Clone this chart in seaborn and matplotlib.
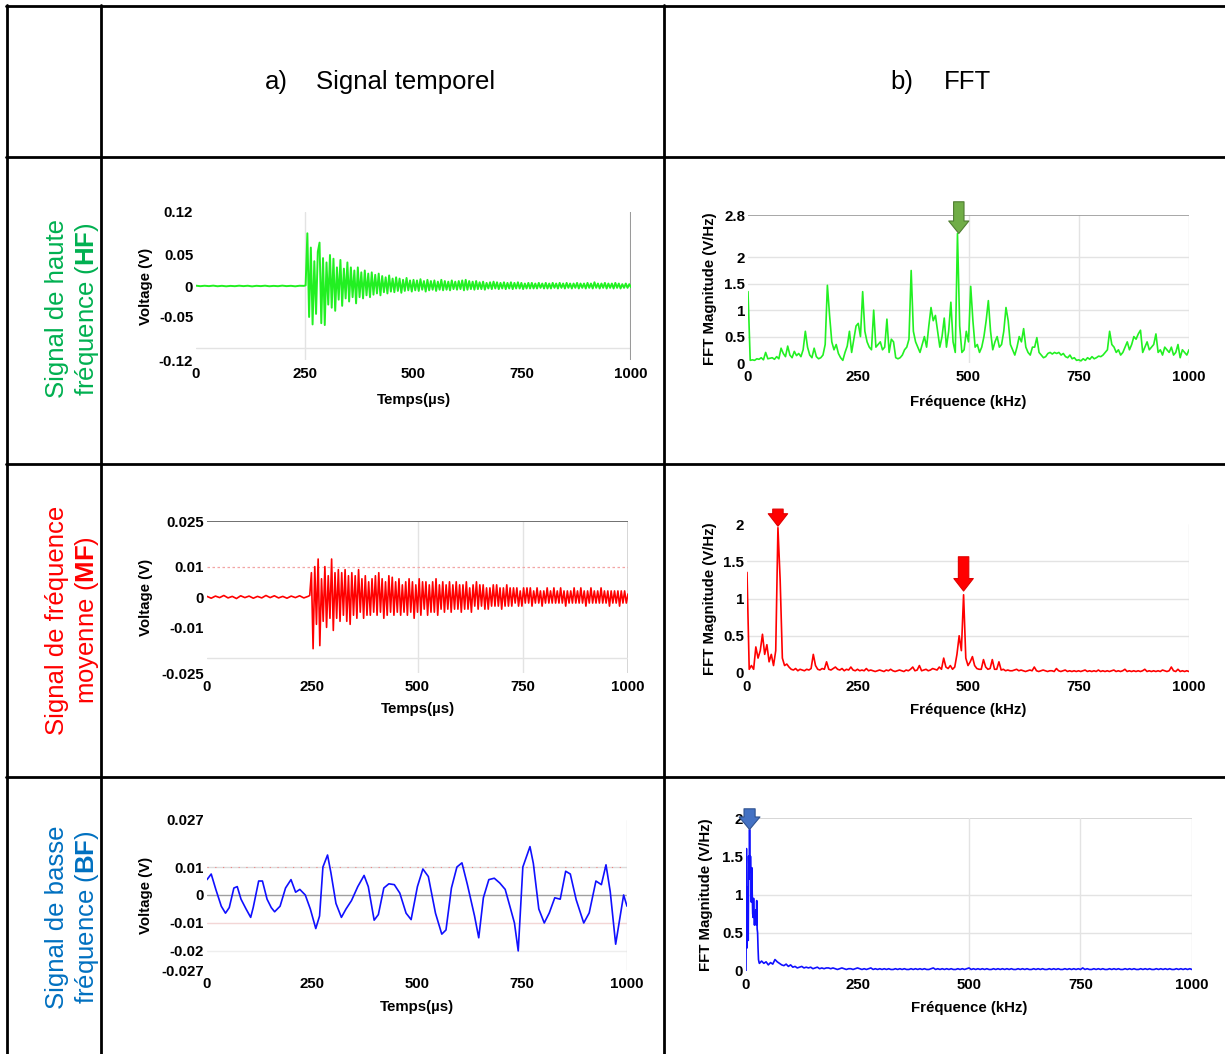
import numpy as np
import matplotlib.pyplot as plt
from matplotlib.lines import Line2D
import seaborn as sns

sns.set_theme(style="white")
plt.rcParams['font.family'] = ['Liberation Sans', 'DejaVu Sans']
plt.rcParams['mathtext.fontset'] = 'custom'
plt.rcParams['mathtext.rm'] = 'Liberation Sans'
plt.rcParams['mathtext.bf'] = 'Liberation Sans:bold'
plt.rcParams['text.color'] = 'black'
plt.rcParams['axes.labelcolor'] = 'black'

# ---------------- data ----------------
# HF time signal, mV : quiet part 0-248 us, then burst 252-1000 us (4 us step)
hf_time_pre = [0.5, -0.3, 0.4, -0.2, 0.6, -0.4, 0.3, -0.5, 0.2, -0.3, 0.5, -0.2, 0.4,
               -0.6, 0.3, -0.2, 0.5, -0.4, 0.2, -0.3, 0.6, -0.2, 0.3, -0.5, 0.4, 0.2]
hf_time_post = [1, 85, -50, 62, -62, 40, -45, 55, 70, -60,
                45, -63, 38, -30, 50, -35, 44, -40, 30, -22,
                42, -32, 28, -20, 38, -25, 30, -18, 25, -28,
                30, -18, 22, -20, 25, -15, 20, -18, 22, -14,
                18, -12, 20, -15, 16, -10, 14, -12, 17, -9,
                12, -10, 14, -8, 12, -11, 10, -8, 13, -7,
                9, -9, 10, -7, 9, -8, 11, -6, 8, -9,
                10, -7, 8, -6, 9, -8, 7, -6, 10, -7,
                8, -6, 7, -7, 9, -5, 7, -6, 8, -5,
                9, -7, 10, -6, 8, -5, 7, -6, 8, -5,
                6, -5, 7, -6, 5, -4, 6, -5, 7, -4,
                6, -5, 5, -4, 6, -5, 5, -4, 6, -5,
                5, -4, 6, -4, 5, -5, 4, -4, 5, -4,
                5, -4, 4, -4, 5, -3, 4, -4, 5, -4,
                4, -4, 5, -3, 4, -4, 5, -3, 4, -4,
                5, -3, 4, -4, 4, -3, 5, -4, 4, -3,
                4, -4, 5, -3, 4, -4, 6, -3, 4, -4,
                4, -3, 5, -4, 4, -3, 4, -4, 5, -3,
                4, -4, 3, -3, 4, -3, 3, -2]

# HF FFT magnitude, 0-1000 kHz (5 kHz step)
hf_fft = [1.35, 0.05, 0.06, 0.05, 0.08, 0.07, 0.1, 0.06, 0.2, 0.08,
          0.09, 0.1, 0.07, 0.12, 0.08, 0.28, 0.18, 0.12, 0.32, 0.15,
          0.1, 0.22, 0.14, 0.18, 0.12, 0.25, 0.6, 0.3, 0.15, 0.1,
          0.28, 0.12, 0.08, 0.1, 0.15, 0.35, 1.47, 0.9, 0.4, 0.25,
          0.35, 0.18, 0.1, 0.05, 0.2, 0.32, 0.6, 0.2, 0.45, 0.7,
          0.75, 0.5, 1.35, 0.6, 0.4, 0.3, 0.25, 1.0, 0.3, 0.35,
          0.4, 0.25, 0.3, 0.83, 0.2, 0.45, 0.4, 0.1, 0.08, 0.1,
          0.15, 0.25, 0.3, 0.45, 1.75, 0.6, 0.4, 0.3, 0.2, 0.35,
          0.5, 0.3, 0.7, 1.05, 0.8, 0.9, 0.6, 0.3, 0.5, 0.85,
          0.3, 0.6, 1.15, 0.4, 0.2, 2.45, 0.7, 0.2, 0.25, 0.6,
          0.4, 1.45, 0.8, 0.3, 0.35, 0.2, 0.3, 0.5, 0.8, 1.18,
          0.6, 0.25, 0.4, 0.5, 0.3, 0.35, 0.6, 1.05, 0.8, 0.35,
          0.25, 0.15, 0.3, 0.5, 0.4, 0.65, 0.3, 0.2, 0.15, 0.3,
          0.3, 0.48, 0.2, 0.15, 0.1, 0.12, 0.18, 0.2, 0.17, 0.2,
          0.18, 0.2, 0.15, 0.18, 0.12, 0.1, 0.15, 0.08, 0.1, 0.05,
          0.06, 0.04, 0.08, 0.05, 0.1, 0.07, 0.12, 0.08, 0.1, 0.13,
          0.12, 0.15, 0.2, 0.25, 0.6, 0.35, 0.3, 0.2, 0.25, 0.15,
          0.2, 0.3, 0.4, 0.25, 0.35, 0.5, 0.45, 0.55, 0.62, 0.2,
          0.3, 0.4, 0.25, 0.3, 0.35, 0.55, 0.2, 0.25, 0.15, 0.3,
          0.25, 0.2, 0.3, 0.15, 0.2, 0.35, 0.1, 0.25, 0.2, 0.15,
          0.25]

# MF time signal, mV : quiet 0-240 us, then 244-1000 us (4 us step)
mf_time_pre = [0.2, -0.4, 0.3, -0.2, 0.5, -0.3, 0.2, -0.5, 0.4, -0.2, 0.3, -0.4, 0.2,
               -0.3, 0.5, -0.2, 0.4, -0.3, 0.2, -0.4, 0.3, -0.2, 0.4, -0.3, 0.2]
mf_time_post = [0.5, 8, -17, 10, -9, 12.5, -16, 6, -8, 10,
                -10, 7, -7, 12.5, -11, 8, -7, 9, -8, 8,
                -6, 9, -8, 7, -9, 8, -6, 7, -7, 9,
                -5, 6, -7, 7, -6, 5, -6, 6, -5, 7,
                -6, 8, -5, 6, -7, 5, -6, 7, -5, 6.5,
                -6, 5, -5, 6, -6, 4, -5, 5, -6, 6,
                -5, 5, -7, 4, -5, 6, -6, 5, -4, 5,
                -6, 4, -5, 5, -5, 6, -6, 4, -4, 5,
                -5, 4, -4, 5, -5, 4, -4, 5, -4, 4,
                -5, 4, -4, 5, -4, 3, -5, 4, -3, 5,
                -4, 4, -3, 4, -4, 3, -4, 3, -3, 4,
                -3, 4, -3, 3, -4, 3, -3, 4, -3, 3,
                -3, 3, -2, 3, -3, 2, -3, 3, -2, 3,
                -2, 3, -3, 2, -2, 3, -2, 2, -3, 2,
                -2, 3, -2, 2, -2, 3, -2, 2, -2, 3,
                -2, 2, -3, 2, -2, 2, -2, 3, -2, 2,
                -2, 3, -2, 2, -3, 2, -2, 3, -2, 2,
                -2, 2, -2, 3, -2, 2, -2, 2, -3, 2,
                -2, 2, -2, 2, -3, 2, -2, 2, -2, 1]

# MF FFT magnitude, 0-1000 kHz (5 kHz step)
mf_fft = [1.35, 0.05, 0.1, 0.05, 0.35, 0.2, 0.3, 0.52, 0.25, 0.38,
          0.15, 0.25, 0.1, 0.3, 1.95, 1.25, 0.2, 0.1, 0.12, 0.08,
          0.05, 0.04, 0.06, 0.03, 0.05, 0.04, 0.03, 0.05, 0.04, 0.06,
          0.25, 0.1, 0.05, 0.04, 0.06, 0.05, 0.15, 0.05, 0.04, 0.06,
          0.08, 0.05, 0.04, 0.06, 0.03, 0.05, 0.04, 0.08, 0.04, 0.03,
          0.05, 0.03, 0.04, 0.03, 0.06, 0.03, 0.04, 0.03, 0.02, 0.03,
          0.04, 0.03, 0.02, 0.04, 0.03, 0.05, 0.03, 0.02, 0.03, 0.04,
          0.03, 0.02, 0.04, 0.03, 0.05, 0.08, 0.03, 0.04, 0.1, 0.03,
          0.04, 0.05, 0.03, 0.04, 0.06, 0.05, 0.04, 0.08, 0.05, 0.2,
          0.08, 0.06, 0.1, 0.05, 0.08, 0.25, 0.5, 0.3, 1.05, 0.2,
          0.1, 0.15, 0.22, 0.1, 0.06, 0.05, 0.05, 0.18, 0.08, 0.05,
          0.06, 0.18, 0.05, 0.05, 0.15, 0.04, 0.05, 0.03, 0.04, 0.03,
          0.03, 0.04, 0.05, 0.03, 0.04, 0.03, 0.02, 0.03, 0.04, 0.03,
          0.08, 0.03, 0.02, 0.03, 0.04, 0.03, 0.02, 0.03, 0.03, 0.02,
          0.06, 0.03, 0.02, 0.03, 0.04, 0.02, 0.03, 0.02, 0.03, 0.02,
          0.03, 0.02, 0.03, 0.04, 0.02, 0.03, 0.02, 0.03, 0.02, 0.04,
          0.02, 0.03, 0.02, 0.03, 0.02, 0.03, 0.04, 0.02, 0.03, 0.02,
          0.03, 0.05, 0.02, 0.03, 0.02, 0.03, 0.02, 0.03, 0.02, 0.03,
          0.05, 0.02, 0.03, 0.02, 0.03, 0.02, 0.03, 0.02, 0.04, 0.03,
          0.02, 0.03, 0.08, 0.03, 0.02, 0.05, 0.02, 0.03, 0.02, 0.03,
          0.02]

# BF time signal : (time us, mV)
bf_t = [0, 10, 21, 34, 44, 53, 64, 72, 81, 93, 104, 110, 123, 132, 143, 153, 161, 174,
        187, 200, 211, 221, 234, 246, 259, 268, 276, 287, 295, 307, 320, 331, 344, 359,
        374, 384, 398, 408, 421, 433, 446, 459, 474, 486, 501, 514, 527, 544, 559, 569,
        582, 595, 607, 620, 637, 647, 658, 671, 684, 697, 710, 722, 732, 741, 752, 769,
        777, 790, 803, 815, 828, 841, 854, 865, 879, 897, 910, 926, 939, 950, 960, 973,
        985, 992, 1000]
bf_v = [5.5, 7.5, 2, -4, -6.5, -4.5, 2.5, 3, -1.5, -5, -8, -4.5, 5, 5, -1.5, -4.5, -6,
        -4, 2.5, 5.5, 1, 2, 0, -5, -12, -7.5, 10, 14.3, 8, -3, -8, -5, -2, 3, 7, 3, -9,
        -7, 2.5, 4, 3.7, 0.7, -6.5, -8.8, 3, 9.3, 6.6, -6.5, -14, -12.5, 2.5, 10, 11.5,
        3.7, -7.5, -15.3, -1, 5.5, 6, 4.3, 2, -4.5, -10, -20, 10, 17.3, 11.3, -5, -10,
        -6.4, -1, -1.5, 8.5, 7.5, -1.7, -10, -6.4, 5, 3.7, 10.8, 1.3, -17.6, -6.4, 0, -4]

# BF FFT magnitude : 0-30 kHz (1 kHz step) then 35-1000 kHz (5 kHz step)
bf_fft_low = [0.0, 1.6, 0.3, 0.5, 1.1, 0.4, 1.5, 1.2, 1.85, 1.3, 1.5, 1.35, 0.9, 1.35,
              1.0, 0.75, 0.7, 0.95, 0.75, 0.6, 0.75, 0.7, 0.8, 0.6, 0.92, 0.55, 0.5, 0.3,
              0.15, 0.12, 0.1]
bf_fft_high = [0.13, 0.1, 0.12, 0.08, 0.11, 0.09, 0.15, 0.12, 0.1, 0.08,
               0.07, 0.09, 0.06, 0.08, 0.05, 0.06, 0.04, 0.05, 0.06, 0.04,
               0.05, 0.04, 0.05, 0.03, 0.04, 0.05, 0.03, 0.04, 0.03, 0.04,
               0.04, 0.03, 0.04, 0.03, 0.02, 0.03, 0.04, 0.03, 0.02, 0.03,
               0.03, 0.02, 0.03, 0.04, 0.03, 0.02, 0.03, 0.02, 0.03, 0.04,
               0.02, 0.03, 0.02, 0.03, 0.02, 0.03, 0.02, 0.03, 0.02, 0.02,
               0.03, 0.02, 0.03, 0.02, 0.03, 0.02, 0.02, 0.03, 0.02, 0.03,
               0.02, 0.03, 0.02, 0.03, 0.02, 0.02, 0.03, 0.04, 0.02, 0.03,
               0.02, 0.03, 0.02, 0.03, 0.02, 0.03, 0.02, 0.02, 0.03, 0.02,
               0.03, 0.02, 0.03, 0.04, 0.02, 0.03, 0.02, 0.03, 0.02, 0.03,
               0.02, 0.03, 0.02, 0.02, 0.03, 0.02, 0.03, 0.02, 0.03, 0.02,
               0.03, 0.02, 0.03, 0.02, 0.02, 0.03, 0.02, 0.03, 0.02, 0.03,
               0.02, 0.02, 0.03, 0.02, 0.03, 0.02, 0.03, 0.02, 0.02, 0.03,
               0.02, 0.03, 0.02, 0.03, 0.02, 0.02, 0.03, 0.02, 0.03, 0.02,
               0.03, 0.02, 0.03, 0.02, 0.04, 0.02, 0.03, 0.02, 0.02, 0.03,
               0.02, 0.03, 0.02, 0.03, 0.02, 0.02, 0.03, 0.02, 0.03, 0.02,
               0.03, 0.02, 0.02, 0.03, 0.02, 0.03, 0.02, 0.03, 0.02, 0.02,
               0.03, 0.02, 0.03, 0.02, 0.03, 0.02, 0.02, 0.03, 0.02, 0.03,
               0.02, 0.03, 0.02, 0.03, 0.02, 0.02, 0.03, 0.02, 0.03, 0.02,
               0.03, 0.02, 0.03, 0.02]

# peaks marked by arrows (kHz, tip, tail)
hf_arrow = (478, 2.45, 3.05)
mf_arrows = [(70, 1.97, 2.2), (490, 1.1, 1.56)]
bf_arrow = (8, 1.85, 2.12)

x_ticks = [0, 250, 500, 750, 1000]
col_titles = [("a)", "Signal temporel"), ("b)", "FFT")]
row_titles = ["Signal de haute\nfréquence ($\\mathbf{HF}$)",
              "Signal de fréquence\nmoyenne ($\\mathbf{MF}$)",
              "Signal de basse\nfréquence ($\\mathbf{BF}$)"]
row_colors = ["#00b050", "#ff0000", "#0070c0"]

# ---------------- figure ----------------
W, H = 1225, 1054
fig = plt.figure(figsize=(W / 100, H / 100), dpi=100)


def add_ax(l, r, t, b):
    return fig.add_axes([l / W, 1 - b / H, (r - l) / W, (b - t) / H])


def setup(ax, yt, ylab, ylim, ylabel, xlabel, ylab_x, xlab_y, box):
    l, r, t, b = box
    ax.set_xlim(0, 1000)
    ax.set_ylim(*ylim)
    ax.set_xticks(x_ticks)
    ax.set_xticklabels([str(v) for v in x_ticks], fontweight='bold')
    ax.set_yticks(yt)
    ax.set_yticklabels(ylab, fontweight='bold')
    ax.tick_params(length=0, labelsize=10.8, colors='black')
    ax.tick_params(axis='x', pad=5)
    ax.tick_params(axis='y', pad=2)
    for s in ax.spines.values():
        s.set_visible(False)
    ax.set_ylabel(ylabel, fontsize=10.8, fontweight='bold')
    ax.set_xlabel(xlabel, fontsize=10.8, fontweight='bold')
    ax.yaxis.set_label_coords((ylab_x - l) / (r - l), 0.5)
    ax.xaxis.set_label_coords(0.5, (b - xlab_y) / (b - t))
    ax.xaxis.label.set_va('center')
    ax.yaxis.label.set_va('center')
    ax.set_facecolor('none')


def arrow(ax, x, tip, tail, color, edge, hw, tw):
    ax.annotate('', xy=(x, tip), xytext=(x, tail), annotation_clip=False,
                arrowprops=dict(arrowstyle=f'simple,head_width={hw},head_length=0.9,tail_width={tw}',
                                fc=color, ec=edge, lw=0.8, shrinkA=0, shrinkB=0,
                                mutation_scale=10), zorder=5)


grid_c = '#e3e3e3'

# --- HF time
box1 = (196, 631, 211.6, 360.4)
ax1 = add_ax(*box1)
ax1.axvline(250, color=grid_c, lw=1)
ax1.axhline(-0.1, color=grid_c, lw=1)
ax1.axvline(1000, color='#9a9a9a', lw=1.5)
x = np.concatenate([np.linspace(0, 248, len(hf_time_pre)), np.linspace(252, 1000, len(hf_time_post))])
y = np.concatenate([hf_time_pre, hf_time_post]) / 1000
sns.lineplot(x=x, y=y, ax=ax1, color='#22f022', lw=1.4, sort=False, estimator=None)
setup(ax1, [0.12, 0.05, 0, -0.05, -0.12], ['0.12', '0.05', '0', '-0.05', '-0.12'],
      (-0.12, 0.12), 'Voltage (V)', 'Temps(µs)', 146, 400, box1)

# --- HF FFT
box2 = (748, 1189, 215, 363)
ax2 = add_ax(*box2)
for v in [0.5, 1, 1.5, 2]:
    ax2.axhline(v, color=grid_c, lw=1)
for v in [500, 750, 1000]:
    ax2.axvline(v, color=grid_c, lw=1)
ax2.axhline(2.8, color='#a0a0a0', lw=1.3)
sns.lineplot(x=np.linspace(0, 1000, len(hf_fft)), y=hf_fft, ax=ax2, color='#22f022',
             lw=1.2, sort=False, estimator=None)
setup(ax2, [0, 0.5, 1, 1.5, 2, 2.8], ['0', '0.5', '1', '1.5', '2', '2.8'], (0, 2.8),
      'FFT Magnitude (V/Hz)', 'Fréquence (kHz)', 710, 402, box2)
arrow(ax2, *hf_arrow, '#70ad47', '#507e32', 1.45, 0.75)

# --- MF time
box3 = (207, 628, 521, 673)
ax3 = add_ax(*box3)
for v in [500, 750]:
    ax3.axvline(v, color=grid_c, lw=1)
ax3.axvline(1000, color='#cfcfcf', lw=1.2)
ax3.axhline(-0.02, color=grid_c, lw=1)
ax3.axhline(0.01, color='#f3a5a5', lw=0.9, ls=(0, (2, 2)))
ax3.axhline(0.025, color='#707070', lw=1.4)
x = np.concatenate([np.linspace(0, 240, len(mf_time_pre)), np.linspace(244, 1000, len(mf_time_post))])
y = np.concatenate([mf_time_pre, mf_time_post]) / 1000
sns.lineplot(x=x, y=y, ax=ax3, color='#ff0000', lw=1.2, sort=False, estimator=None)
setup(ax3, [0.025, 0.01, 0, -0.01, -0.025], ['0.025', '0.01', '0', '-0.01', '-0.025'],
      (-0.025, 0.025), 'Voltage (V)', 'Temps(µs)', 146, 709, box3)

# --- MF FFT
box4 = (747, 1189, 524, 673)
ax4 = add_ax(*box4)
for v in [0.5, 1, 1.5]:
    ax4.axhline(v, color=grid_c, lw=1)
ax4.axvline(1000, color=grid_c, lw=1)
sns.lineplot(x=np.linspace(0, 1000, len(mf_fft)), y=mf_fft, ax=ax4, color='#ff0000',
             lw=1.2, sort=False, estimator=None)
setup(ax4, [0, 0.5, 1, 1.5, 2], ['0', '0.5', '1', '1.5', '2'], (0, 2),
      'FFT Magnitude (V/Hz)', 'Fréquence (kHz)', 710, 710, box4)
for a in mf_arrows:
    arrow(ax4, *a, '#ff0000', '#e00000', 1.4, 0.75)

# --- BF time
box5 = (207, 627, 819.5, 970.5)
ax5 = add_ax(*box5)
ax5.axhline(0.01, color='#dcdcdc', lw=1)
ax5.axhline(0.01, color='#f08080', lw=0.8, ls=(0, (1, 6)))
ax5.axhline(0, color='#a0a0a0', lw=1)
ax5.axhline(-0.01, color='#f3d6d6', lw=1)
ax5.axhline(-0.02, color='#eeeeee', lw=1)
ax5.axvline(1000, color='#dcdcdc', lw=1)
sns.lineplot(x=bf_t, y=np.array(bf_v) / 1000, ax=ax5, color='#1010ff', lw=1.2,
             sort=False, estimator=None)
setup(ax5, [0.027, 0.01, 0, -0.01, -0.02, -0.027],
      ['0.027', '0.01', '0', '-0.01', '-0.02', '-0.027'],
      (-0.027, 0.027), 'Voltage (V)', 'Temps(µs)', 146, 1007, box5)

# --- BF FFT
box6 = (746, 1192, 818, 971)
ax6 = add_ax(*box6)
for v in [0.5, 1]:
    ax6.axhline(v, color=grid_c, lw=1)
ax6.axhline(2, color='#cfcfcf', lw=1.2)
for v in [500, 750, 1000]:
    ax6.axvline(v, color=grid_c, lw=1)
f = np.concatenate([np.arange(0, 31), np.arange(35, 1001, 5)])
sns.lineplot(x=f, y=np.concatenate([bf_fft_low, bf_fft_high]), ax=ax6, color='#1010ff',
             lw=1.2, sort=False, estimator=None)
setup(ax6, [0, 0.5, 1, 1.5, 2], ['0', '0.5', '1', '1.5', '2'], (0, 2),
      'FFT Magnitude (V/Hz)', 'Fréquence (kHz)', 706, 1008, box6)
arrow(ax6, *bf_arrow, '#4472c4', '#2f528f', 1.5, 0.8)

# ---------------- table frame and headings ----------------
def fline(x0, y0, x1, y1):
    fig.add_artist(Line2D([x0 / W, x1 / W], [1 - y0 / H, 1 - y1 / H], color='black',
                          lw=2.0, transform=fig.transFigure))


for xv in [7, 101, 664]:
    fline(xv, 5, xv, H)
for yv in [6, 157, 464, 777]:
    fline(6, yv, W, yv)

fig.text(276 / W, 1 - 82 / H, col_titles[0][0], ha='center', va='center', fontsize=18.5)
fig.text(406 / W, 1 - 82 / H, col_titles[0][1], ha='center', va='center', fontsize=18.5)
fig.text(902 / W, 1 - 82 / H, col_titles[1][0], ha='center', va='center', fontsize=18.5)
fig.text(967 / W, 1 - 82 / H, col_titles[1][1], ha='center', va='center', fontsize=18.5)

for title, color, yc in zip(row_titles, row_colors, [309, 620, 917]):
    fig.text(73 / W, 1 - yc / H, title, rotation=90, ha='center', va='center',
             multialignment='center', color=color, fontsize=18.5, linespacing=1.15)

fig.savefig('out.png', dpi=100)
